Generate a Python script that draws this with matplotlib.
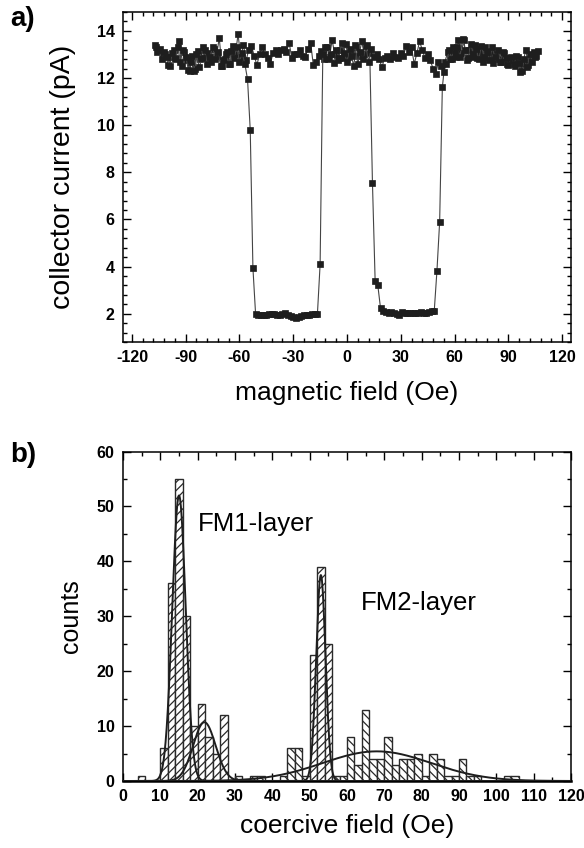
import numpy as np
import matplotlib
matplotlib.use("Agg")
import matplotlib.pyplot as plt
from matplotlib.ticker import MultipleLocator, AutoMinorLocator

plt.rcParams['font.family'] = ['Liberation Sans', 'DejaVu Sans']
plt.rcParams['hatch.linewidth'] = 0.9
plt.rcParams['axes.unicode_minus'] = False

# ---------------- panel a data: collector current vs magnetic field ----------------
# ascending sweep (field from -107.3 Oe upwards, 1.5 Oe steps)
asc_start, asc_step = -107.3, 1.5
asc_current = [
    13.4, 13.1, 13.25, 12.95, 13.0, 12.55, 12.9, 13.2, 12.85, 13.55,
    12.5, 13.1, 12.75, 12.3, 12.95, 12.4, 13.15, 12.8, 13.3, 12.9,
    13.05, 12.7, 13.25, 12.95, 13.7, 12.5, 12.8, 13.1, 12.6, 13.35,
    13.0, 13.85, 12.9, 13.4, 12.75,
    13.2, 13.35, 12.95, 12.55, 13.0, 13.3, 13.0, 12.85, 12.6, 13.05,
    13.2, 13.0, 13.2, 13.25, 13.1, 13.5, 12.85, 13.0, 13.0, 13.2,
    12.95, 12.9, 13.25, 13.5, 12.55, 12.7, 12.95, 13.15,
    12.8, 13.3, 12.9, 13.6, 13.0, 12.75, 13.2, 12.85, 13.45, 12.9,
    13.1, 12.5, 13.3, 12.95, 13.55, 13.0, 13.4, 13.05,
    7.56, 3.4, 3.2, 2.24,
    2.1, 2.08, 2.04, 2.07, 2.05, 2.0, 1.96, 2.06, 2.04, 2.02,
    2.05, 2.03, 2.05, 2.04, 2.06, 2.05, 2.04, 2.07, 2.1, 2.13,
    3.83, 5.9, 11.6, 12.7,
    13.1, 12.8, 13.3, 12.9, 13.6, 13.05, 13.6, 12.75, 13.2, 12.9,
    13.4, 12.85, 13.1, 12.7, 13.3, 12.95, 13.15, 12.65, 13.0, 12.8,
    12.7, 13.05, 12.6, 12.85, 12.75, 12.5, 12.9, 12.25, 12.6, 13.2,
    12.55, 12.8, 13.1, 12.95,
]
# descending sweep (field from +106.5 Oe downwards, 1.5 Oe steps)
desc_start, desc_step = 106.5, -1.5
desc_current = [
    13.15, 12.9, 12.7, 13.0, 12.45, 12.8, 12.3, 12.65, 12.95, 12.6,
    12.9, 12.55, 12.85, 13.1, 12.7, 13.2, 12.9, 13.3, 12.75, 13.1,
    12.9, 13.35, 12.8, 13.25, 13.0, 13.45, 12.85, 13.2, 13.65, 12.9,
    13.3, 13.05, 12.8, 13.2, 12.6,
    12.25, 12.5, 12.7, 12.15, 12.4, 12.75, 13.0, 12.85, 13.2, 13.55,
    13.05, 12.6, 13.3, 13.1, 13.35, 12.95, 13.05, 12.85, 12.9, 13.05,
    12.8, 12.95, 12.85, 12.45, 12.8, 13.0, 12.9, 13.25, 12.7, 13.35,
    12.8, 13.1, 12.6, 13.4, 12.95, 13.25, 12.7, 13.05, 13.5, 12.85,
    13.2, 12.65, 13.0, 12.8, 13.3, 13.0,
    4.1,
    2.0, 2.0, 1.97, 1.93, 1.95, 1.96, 1.9, 1.86, 1.82, 1.88,
    1.92, 1.95, 2.02, 1.97, 1.93, 1.95, 1.98, 2.0, 1.97, 1.95,
    1.94, 1.96, 1.95, 1.97,
    3.94, 9.8, 11.94,
    12.6, 13.05, 12.7, 13.3, 12.85, 13.15, 12.6, 13.0, 12.75, 12.5,
    13.1, 12.8, 13.3, 12.9, 12.6, 13.2, 12.85, 12.45, 13.0, 12.3,
    12.7, 12.35, 12.9, 13.2, 12.7, 13.3, 12.8, 13.05, 12.5, 12.9,
    13.1, 12.8, 13.2, 13.3,
]
field_ticks = [-120, -90, -60, -30, 0, 30, 60, 90, 120]
current_ticks = [2, 4, 6, 8, 10, 12, 14]

# ---------------- panel b data: histogram of coercive fields ----------------
bin_width = 2
fm1_bin_left = [4, 10, 12, 14, 16, 18, 20, 22, 24, 26, 50, 52, 54]
fm1_counts = [1, 6, 36, 55, 30, 10, 14, 8, 5, 12, 23, 39, 25]
fm2_bin_left = [30, 34, 36, 42, 44, 46, 48, 56, 58, 60, 62, 64, 66, 68, 70, 72, 74,
                76, 78, 80, 82, 84, 86, 88, 90, 92, 94, 102, 104]
fm2_counts = [1, 1, 1, 1, 6, 6, 1, 1, 1, 8, 3, 13, 4, 4, 8, 3, 4,
              4, 5, 1, 5, 4, 1, 1, 4, 1, 1, 1, 1]
# Gaussian fit parameters (center, amplitude, sigma)
fit_centers = [15.0, 21.8, 53.0, 68.0]
fit_amplitudes = [52.0, 10.7, 37.5, 5.4]
fit_sigmas = [1.8, 3.0, 1.25, 14.5]

# ---------------- figure ----------------
W, H = 584, 848
fig = plt.figure(figsize=(W / 100, H / 100), dpi=100)

def px_axes(left, top, right, bottom):
    return fig.add_axes([left / W, 1 - bottom / H, (right - left) / W, (bottom - top) / H])

def style(ax):
    ax.tick_params(which='both', direction='in', top=True, right=True, width=1.0)
    ax.tick_params(which='major', length=5.5, pad=6)
    ax.tick_params(which='minor', length=3)
    for lab in ax.get_xticklabels() + ax.get_yticklabels():
        lab.set_fontweight('bold')
        lab.set_fontsize(11.5)
    for s in ax.spines.values():
        s.set_linewidth(1.1)

# panel a
ax1 = px_axes(123, 12, 571, 342)
xa = asc_start + asc_step * np.arange(len(asc_current))
xd = desc_start + desc_step * np.arange(len(desc_current))
for xx, yy in ((xa, asc_current), (xd, desc_current)):
    ax1.plot(xx, yy, '-', color='#444444', lw=0.8, marker='s', markersize=4.3,
             markerfacecolor='#1e1e1e', markeredgecolor='#1e1e1e', markeredgewidth=0.5)
ax1.set_xlim(-125, 125)
ax1.set_ylim(0.8, 14.8)
ax1.set_xticks(field_ticks)
ax1.set_yticks(current_ticks)
ax1.xaxis.set_minor_locator(AutoMinorLocator(5))
ax1.yaxis.set_minor_locator(AutoMinorLocator(5))
style(ax1)
ax1.set_xlabel('magnetic field (Oe)', fontsize=19, labelpad=11)
ax1.set_ylabel('collector current (pA)', fontsize=20.5)
ax1.yaxis.set_label_coords(-0.104, 0.5)

# panel b
ax2 = px_axes(123, 451.5, 571, 781)
ax2.bar(fm1_bin_left, fm1_counts, width=bin_width, align='edge', color='white',
        edgecolor='#2a2a2a', linewidth=1.0, hatch='////', zorder=2)
ax2.bar(fm2_bin_left, fm2_counts, width=bin_width, align='edge', color='white',
        edgecolor='#2a2a2a', linewidth=1.0, hatch='\\\\\\\\', zorder=2)
xf = np.linspace(0, 120, 1201)
for c, a, s in zip(fit_centers, fit_amplitudes, fit_sigmas):
    ax2.plot(xf, a * np.exp(-(xf - c) ** 2 / (2 * s ** 2)), color='#1e1e1e', lw=1.4, zorder=3)
ax2.set_xlim(0, 120)
ax2.set_ylim(0, 60)
ax2.xaxis.set_major_locator(MultipleLocator(10))
ax2.xaxis.set_minor_locator(MultipleLocator(5))
ax2.yaxis.set_major_locator(MultipleLocator(10))
ax2.yaxis.set_minor_locator(MultipleLocator(5))
style(ax2)
ax2.spines['bottom'].set_linewidth(1.8)
ax2.set_xlabel('coercive field (Oe)', fontsize=19, labelpad=7)
ax2.set_ylabel('counts', fontsize=18)
ax2.yaxis.set_label_coords(-0.09, 0.5)
ax2.text(20, 46.8, 'FM1-layer', fontsize=18.5, va='center', ha='left')
ax2.text(63.8, 32.4, 'FM2-layer', fontsize=18.5, va='center', ha='left')

fig.text(10 / W, 1 - 19 / H, 'a)', fontsize=20, fontweight='bold', va='center', ha='left')
fig.text(10 / W, 1 - 455 / H, 'b)', fontsize=20, fontweight='bold', va='center', ha='left')

fig.savefig('out.png', dpi=100)
